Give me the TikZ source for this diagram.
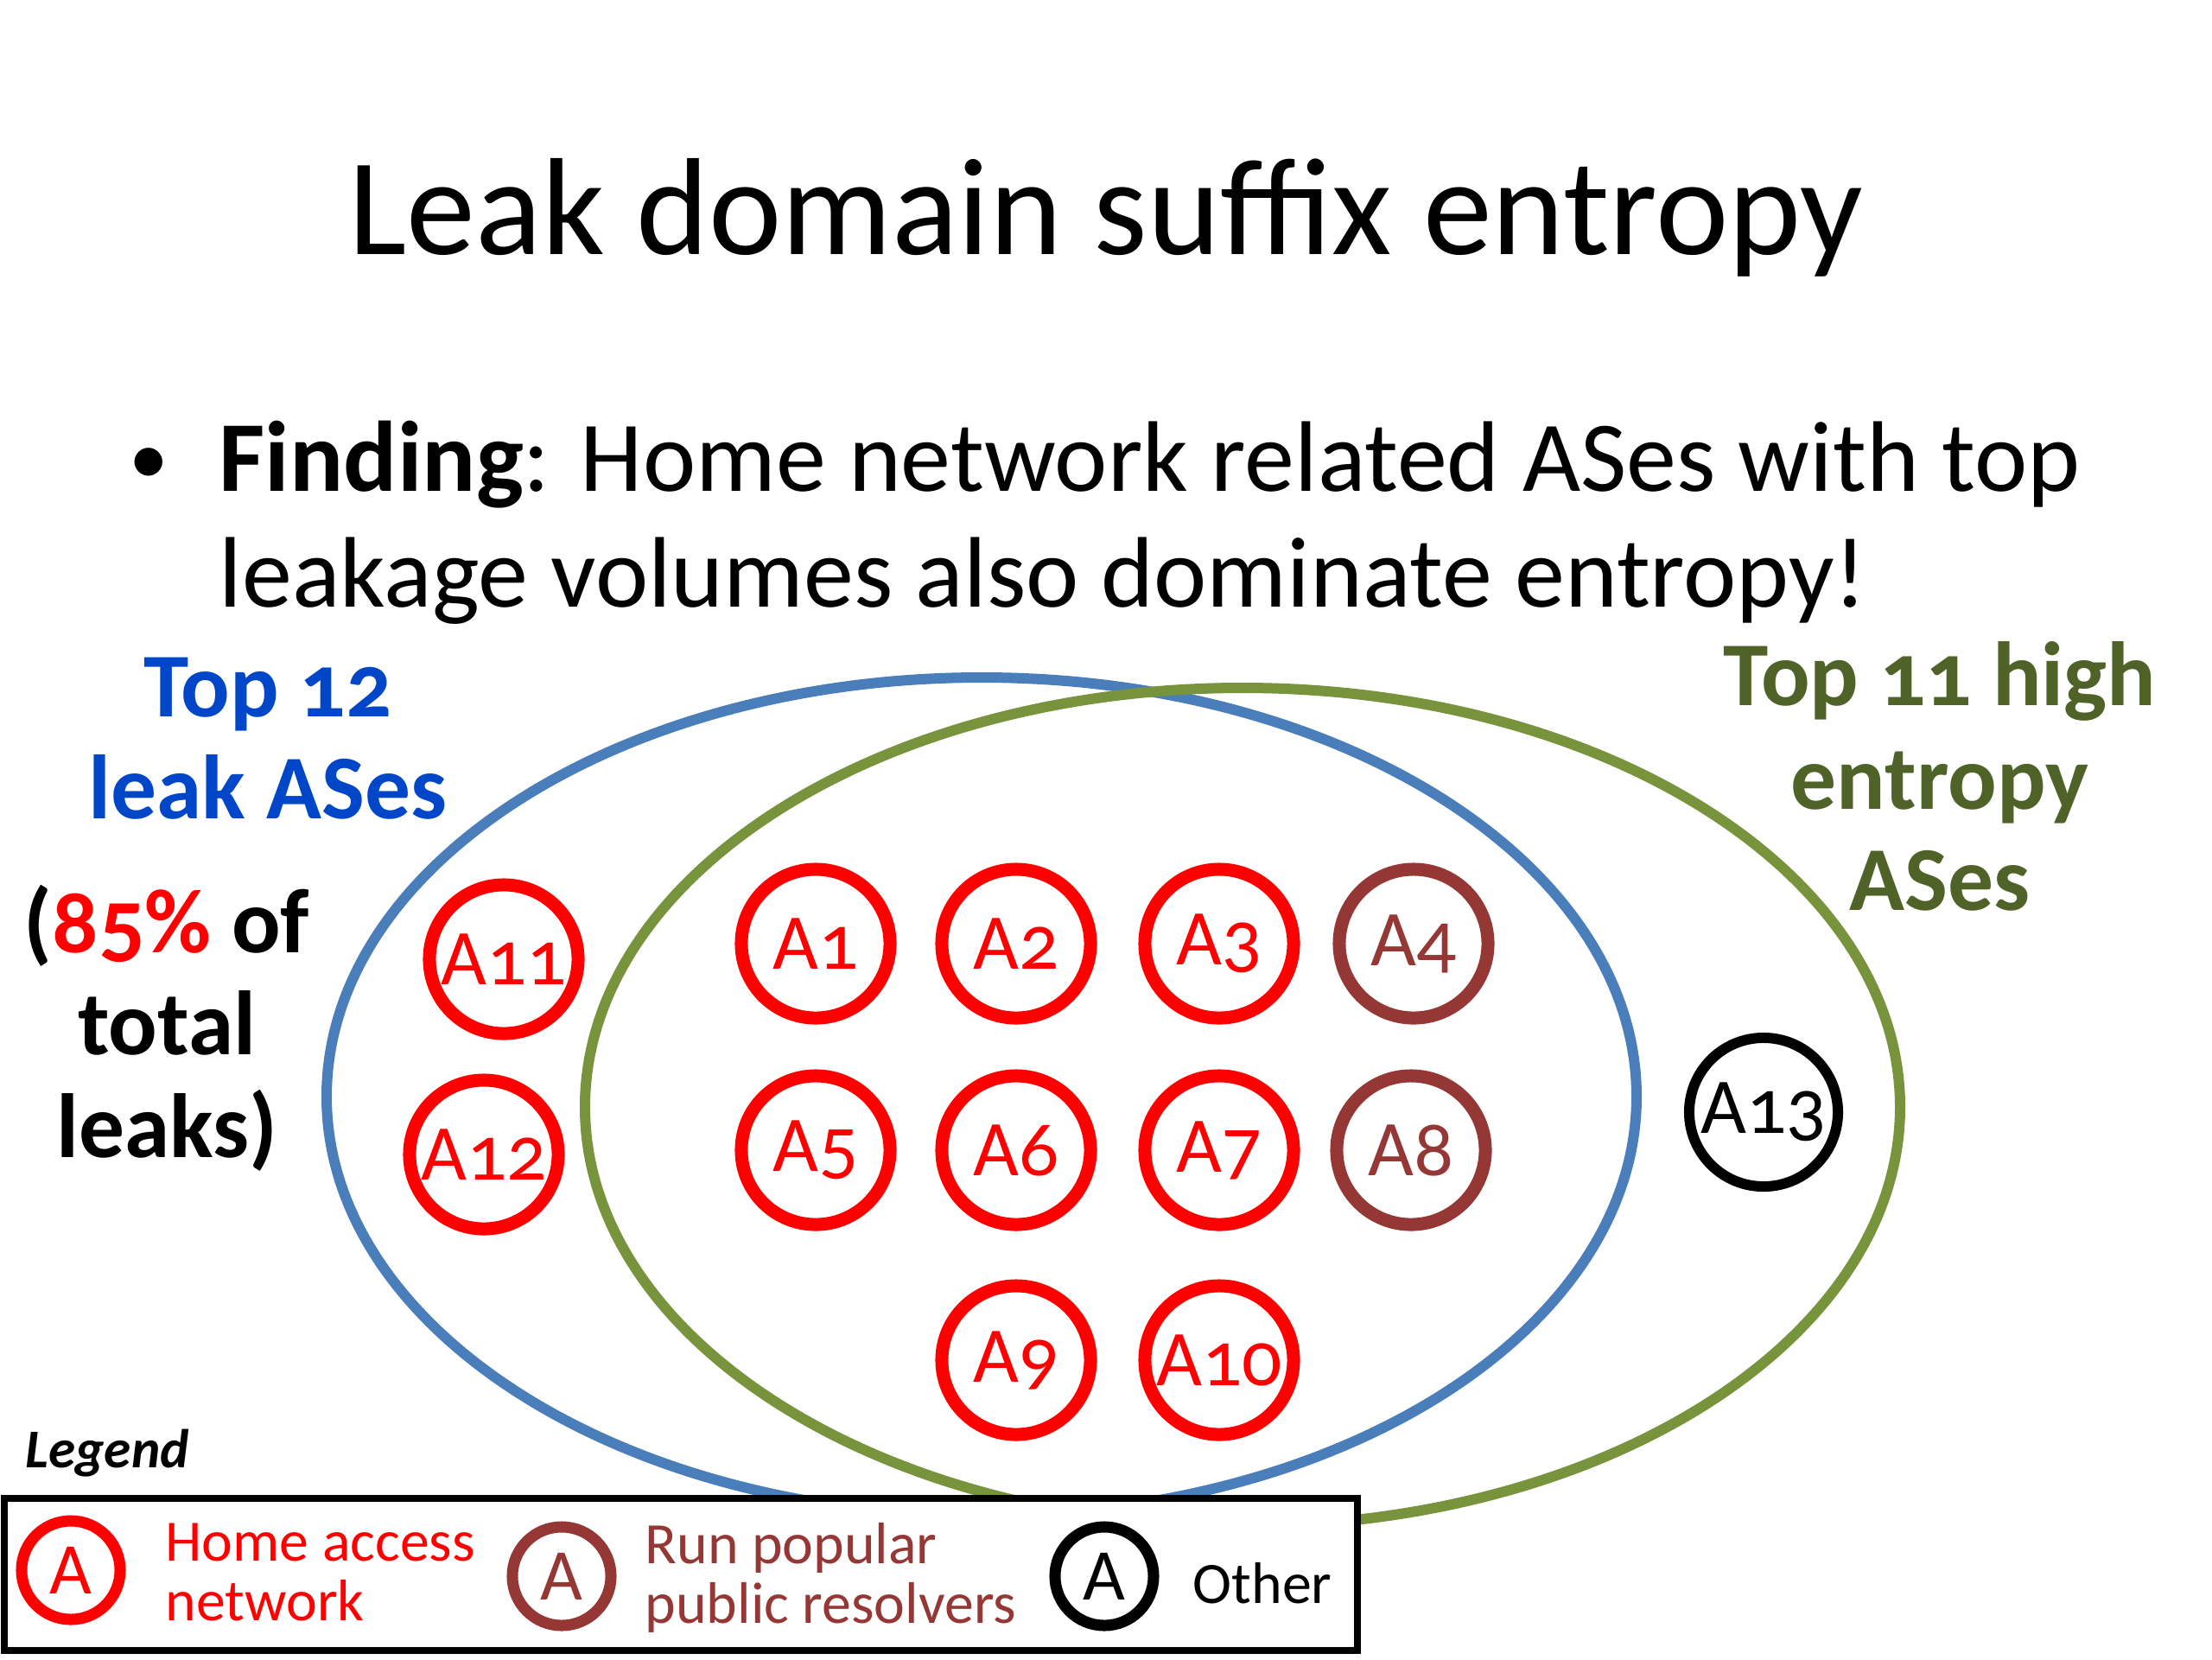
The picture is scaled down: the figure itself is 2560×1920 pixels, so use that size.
\documentclass[tikz,border=0pt]{standalone}
\usepackage{fontspec}
\setmainfont{Carlito}[Numbers=OldStyle]
\usepackage{xcolor}
\usepackage{tikz}
\definecolor{leakblue}{HTML}{4A7EBB}
\definecolor{leaktext}{HTML}{0046C8}
\definecolor{entgreen}{HTML}{77933C}
\definecolor{enttext}{HTML}{4F6228}
\definecolor{resbrown}{HTML}{953735}

\tikzset{
  as/.style={circle, draw=red, text=red, fill=white, line width=0.15cm,
    minimum size=1.72cm, inner sep=0pt, font=\fontsize{26}{26}\selectfont},
  asres/.style={as, draw=resbrown, text=resbrown},
  asother/.style={as, draw=black, text=black, line width=0.12cm},
  legas/.style={circle, fill=white, line width=0.13cm, minimum size=1.14cm,
    inner sep=0pt, font=\fontsize{24}{24}\selectfont},
  legtext/.style={anchor=base west, inner sep=0pt, font=\fontsize{19.3}{19.3}\selectfont},
  side/.style={anchor=base, inner sep=0pt, font=\fontsize{30}{30}\selectfont\bfseries},
  bullettext/.style={anchor=base west, inner sep=0pt, font=\fontsize{33}{33}\selectfont},
}

\begin{document}
\begin{tikzpicture}[x=0.01cm, y=-0.01cm]
      \useasboundingbox[fill=white] (0,0) rectangle (2560,1920);%

      \node[anchor=base, inner sep=0pt, font=\fontsize{45.5}{45.5}\selectfont] (title) at (1280,294) {Leak domain suffix entropy};%

      \node[anchor=base, inner sep=0pt, font=\fontsize{26}{26}\selectfont] (dot) at (172,560) {\textbullet};%
      \node[bullettext] (finding1) at (253,568) {\textbf{Finding}: Home network related ASes with top};%
      \node[bullettext] (finding2) at (253,702) {leakage volumes also dominate entropy!};%

      \draw[leakblue, line width=0.12cm] (1136,1269) ellipse (758 and 485);%
      \draw[entgreen, line width=0.12cm] (1438,1281) ellipse (761 and 485);%

      \node[side, text=leaktext] (top12a) at (310,829) {Top 12};%
      \node[side, text=leaktext] (top12b) at (310,947) {leak ASes};%
      \node[side] (shareA) at (193,1102) {(\textcolor{red}{85\%} of};%
      \node[side] (shareB) at (193,1220) {total};%
      \node[side] (shareC) at (193,1339) {leaks)};%
      \node[side, text=enttext] (top11a) at (2245,816) {Top 11 high};%
      \node[side, text=enttext] (top11b) at (2245,936) {entropy};%
      \node[side, text=enttext] (top11c) at (2245,1053) {ASes};%

      \node[as] (A11) at (583,1110) {A11};%
      \node[as] (A12) at (560,1336) {A12};%
      \node[as] (A1) at (944,1092) {A1};%
      \node[as] (A2) at (1176,1092) {A2};%
      \node[as] (A3) at (1411,1092) {A3};%
      \node[asres] (A4) at (1636,1092) {A4};%
      \node[as] (A5) at (944,1331) {A5};%
      \node[as] (A6) at (1176,1331) {A6};%
      \node[as] (A7) at (1411,1331) {A7};%
      \node[asres] (A8) at (1633,1331) {A8};%
      \node[as] (A9) at (1176,1574) {A9};%
      \node[as] (A10) at (1411,1574) {A10};%
      \node[asother] (A13) at (2041,1287) {A13};%

      % legend
      \node[anchor=base west, inner sep=0pt, font=\fontsize{18}{18}\selectfont\bfseries\itshape] (legend) at (29,1698) {Legend};%
      \draw[fill=white, line width=0.08cm] (5,1734) rectangle (1571,1910);%
      \node[legas, draw=red, text=red] (legHome) at (82,1817) {A};%
      \node[legtext, text=red] (homeA) at (191,1806) {Home access};%
      \node[legtext, text=red] (homeB) at (191,1875) {network};%
      \node[legas, draw=resbrown, text=resbrown] (legRes) at (650,1824) {A};%
      \node[legtext, text=resbrown] (resA) at (746,1809) {Run popular};%
      \node[legtext, text=resbrown] (resB) at (746,1878) {public resolvers};%
      \node[legas, draw=black] (legOther) at (1278,1824) {A};%
      \node[legtext] (other) at (1380,1855) {Other};%
    \end{tikzpicture}
\end{document}
